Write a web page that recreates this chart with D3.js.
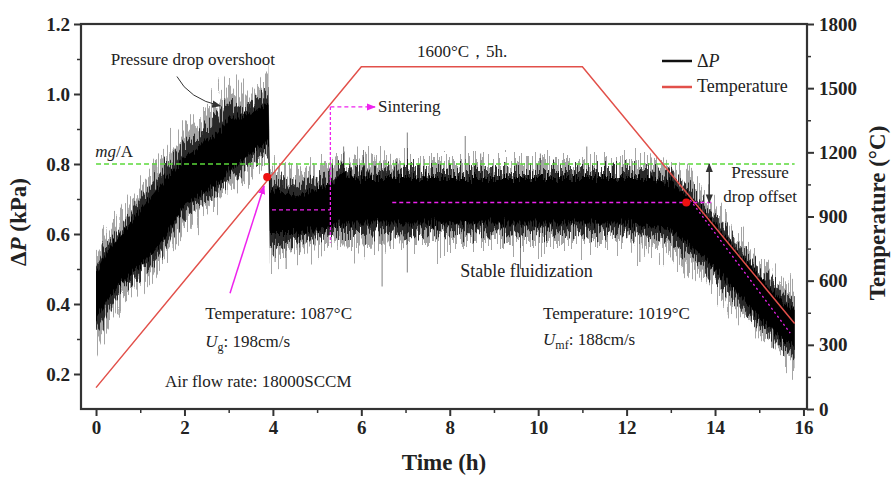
<!DOCTYPE html>
<html><head><meta charset="utf-8">
<script src="https://cdn.jsdelivr.net/npm/d3@7"></script>
<style>
body{margin:0;background:#fff}
svg{display:block}
text{font-family:"Liberation Serif","Times New Roman",serif;fill:#222}
</style>
</head><body>
<svg id="c" width="893" height="479"></svg>
<script>
// ---------- data ----------
const dpTime  = [0,0.25,0.5,0.75,1,1.25,1.5,1.75,2,2.25,2.5,2.75,3,3.25,3.5,3.75,3.9, 3.93,4.25,4.5,4.75,5,5.3, 5.5,6,7,8,9,10,11,12,12.5, 13,13.5,14,14.5,15,15.5,15.8];
const dpOuterUp = [0.54,0.59,0.63,0.68,0.73,0.77,0.81,0.85,0.90,0.92,0.95,0.97,1.03,0.99,0.99,1.03,1.03, 0.78,0.77,0.76,0.77,0.78,0.79, 0.81,0.81,0.80,0.80,0.80,0.80,0.80,0.80,0.80, 0.79,0.74,0.67,0.59,0.52,0.46,0.43];
const dpCoreUp  = [0.49,0.55,0.59,0.63,0.67,0.71,0.75,0.78,0.82,0.84,0.87,0.89,0.93,0.93,0.95,0.96,0.97, 0.73,0.72,0.71,0.72,0.73,0.74, 0.77,0.76,0.76,0.76,0.76,0.76,0.76,0.76,0.76, 0.75,0.70,0.63,0.55,0.48,0.41,0.38];
const dpCoreLo  = [0.36,0.41,0.45,0.48,0.51,0.54,0.58,0.63,0.68,0.70,0.72,0.74,0.78,0.80,0.83,0.85,0.86, 0.60,0.60,0.60,0.61,0.61,0.62, 0.63,0.63,0.63,0.63,0.63,0.63,0.63,0.63,0.62, 0.61,0.56,0.50,0.43,0.36,0.30,0.28];
const dpOuterLo = [0.28,0.35,0.40,0.43,0.46,0.49,0.53,0.58,0.63,0.66,0.68,0.70,0.74,0.76,0.79,0.81,0.82, 0.53,0.55,0.56,0.57,0.57,0.58, 0.57,0.57,0.58,0.58,0.58,0.58,0.58,0.58,0.57, 0.55,0.51,0.45,0.38,0.32,0.26,0.23];
const spikeT = [4.05,4.3,4.6,5.6,6.05,6.47,7.04,7.04,8.35,8.7,9.6,10.05,11.1,12.3];
const spikeV = [0.52,0.50,0.54,0.85,0.84,0.45,0.89,0.49,0.88,0.83,0.50,0.83,0.85,0.52];
const tempTime  = [0,6,11,15.8];
const tempValue = [100,1600,1600,400];
const xTicks = [0,2,4,6,8,10,12,14,16];
const xMinor = [1,3,5,7,9,11,13,15];
const yTicks = [0.2,0.4,0.6,0.8,1.0,1.2];
const yMinor = [0.3,0.5,0.7,0.9,1.1];
const tTicks = [0,300,600,900,1200,1500,1800];
const tMinor = [150,450,750,1050,1350,1650];
const mgA = 0.8;

// ---------- layout ----------
const L=81,R=807,T=24,B=409;
const svg=d3.select('#c');
const x=d3.scaleLinear().domain([-0.34,16.08]).range([L,R]);
const y=d3.scaleLinear().domain([0.1,1.2]).range([B,T]);
const yT=d3.scaleLinear().domain([0,1800]).range([B,T]);
const MAG='#ee22ee', RED='#e2504a', GRN='#5bd93a', AX='#333';

const defs=svg.append('defs');
defs.append('clipPath').attr('id','plot').append('rect').attr('x',L).attr('y',T).attr('width',R-L).attr('height',B-T);
function rough(id,scale,fx,seed){
  const f=defs.append('filter').attr('id',id).attr('x',-0.02).attr('y',-0.6).attr('width',1.04).attr('height',2.2)
    .attr('color-interpolation-filters','sRGB');
  f.append('feTurbulence').attr('type','fractalNoise').attr('baseFrequency',fx+' 0.02').attr('numOctaves',2).attr('seed',seed).attr('result','n');
  f.append('feColorMatrix').attr('in','n').attr('type','matrix')
    .attr('values','0 0 0 0 0.5  0 1 0 0 0  0 0 0 0 0  0 0 0 0 1').attr('result','m');
  f.append('feDisplacementMap').attr('in','SourceGraphic').attr('in2','m').attr('scale',scale)
    .attr('xChannelSelector','R').attr('yChannelSelector','G');
}
rough('r1',70,0.7,3); rough('r2',40,0.9,7); rough('r3',18,1.3,11);
function arrow(id,color,size){
  defs.append('marker').attr('id',id).attr('viewBox','0 0 10 10').attr('refX',9).attr('refY',5)
    .attr('markerWidth',size).attr('markerHeight',size).attr('orient','auto-start-reverse').attr('markerUnits','userSpaceOnUse')
    .append('path').attr('d','M0,1 L10,5 L0,9 Z').attr('fill',color);
}
arrow('am',MAG,9); arrow('ak',AX,9);

// ---------- pressure drop signal ----------
const dp=dpTime.map((t,i)=>({t,ou:dpOuterUp[i],cu:dpCoreUp[i],cl:dpCoreLo[i],ol:dpOuterLo[i]}));
const g=svg.append('g').attr('clip-path','url(#plot)');
const areaO=d3.area().x(d=>x(d.t)).y0(d=>y(d.ol)).y1(d=>y(d.ou));
const areaM=d3.area().x(d=>x(d.t)).y0(d=>y((d.ol+d.cl)/2)).y1(d=>y((d.ou+d.cu)/2));
const areaC=d3.area().x(d=>x(d.t)).y0(d=>y(d.cl)).y1(d=>y(d.cu));
g.append('path').datum(dp).attr('d',areaO).attr('fill','#000').attr('opacity',0.35).attr('filter','url(#r1)');
g.append('path').datum(dp).attr('d',areaM).attr('fill','#000').attr('opacity',0.75).attr('filter','url(#r2)');
g.selectAll('line.sp').data(spikeT.map((t,i)=>({t,v:spikeV[i]}))).join('line')
  .attr('x1',d=>x(d.t)).attr('x2',d=>x(d.t)).attr('y1',y(0.69)).attr('y2',d=>y(d.v))
  .attr('stroke','#000').attr('stroke-width',1).attr('opacity',0.5);
g.append('path').datum(dp).attr('d',areaC).attr('fill','#000').attr('filter','url(#r3)');

// ---------- reference lines & temperature ----------
g.append('line').attr('x1',x(0)).attr('x2',x(15.8)).attr('y1',y(mgA)).attr('y2',y(mgA))
  .attr('stroke',GRN).attr('stroke-width',1.3).attr('stroke-dasharray','5,3');
const temp=tempTime.map((t,i)=>({t,v:tempValue[i]}));
g.append('path').datum(temp).attr('d',d3.line().x(d=>x(d.t)).y(d=>yT(d.v)))
  .attr('fill','none').attr('stroke',RED).attr('stroke-width',1.5);

// magenta annotations
const dash='4,3';
g.append('line').attr('x1',x(5.3)).attr('x2',x(5.3)).attr('y1',y(0.963)).attr('y2',y(0.575)).attr('stroke',MAG).attr('stroke-width',1.3).attr('stroke-dasharray','3,2');
g.append('line').attr('x1',x(5.3)).attr('x2',x(6.31)).attr('y1',y(0.963)).attr('y2',y(0.963)).attr('stroke',MAG).attr('stroke-width',1.3).attr('stroke-dasharray',dash).attr('marker-end','url(#am)');
g.append('line').attr('x1',x(3.98)).attr('x2',x(5.3)).attr('y1',y(0.669)).attr('y2',y(0.669)).attr('stroke',MAG).attr('stroke-width',1.3).attr('stroke-dasharray',dash);
g.append('line').attr('x1',x(6.7)).attr('x2',x(13.95)).attr('y1',y(0.69)).attr('y2',y(0.69)).attr('stroke',MAG).attr('stroke-width',1.3).attr('stroke-dasharray',dash);
g.append('line').attr('x1',x(13.44)).attr('x2',x(15.7)).attr('y1',y(0.697)).attr('y2',y(0.317)).attr('stroke',MAG).attr('stroke-width',1.3).attr('stroke-dasharray','2,3');
g.append('line').attr('x1',x(3.03)).attr('x2',x(3.8)).attr('y1',y(0.431)).attr('y2',y(0.737)).attr('stroke',MAG).attr('stroke-width',1.5).attr('marker-end','url(#am)');
g.append('circle').attr('cx',x(3.87)).attr('cy',y(0.763)).attr('r',4).attr('fill','#ee1111');
g.append('circle').attr('cx',x(13.35)).attr('cy',y(0.69)).attr('r',4).attr('fill','#ee1111');
// black annotations
g.append('line').attr('x1',x(13.87)).attr('x2',x(13.87)).attr('y1',y(0.80)).attr('y2',y(0.69)).attr('stroke',AX).attr('stroke-width',1.3)
  .attr('marker-start','url(#ak)').attr('marker-end','url(#ak)');
g.append('path').attr('d',`M${x(1.83)},${y(1.05)} Q${x(2.1)},${y(0.986)} ${x(2.81)},${y(0.966)}`)
  .attr('fill','none').attr('stroke',AX).attr('stroke-width',1).attr('marker-end','url(#ak)');

// ---------- axes ----------
function styleAxis(sel,w){sel.select('.domain').remove();sel.selectAll('line').attr('stroke',AX).attr('stroke-width',w);
  sel.selectAll('text').attr('font-family','"Liberation Serif",serif').attr('font-weight','bold').attr('font-size',19).attr('fill','#222');}
svg.append('g').attr('transform',`translate(0,${B})`).call(d3.axisBottom(x).tickValues(xTicks).tickSize(7).tickPadding(5).tickFormat(d3.format('d'))).call(s=>styleAxis(s,2));
svg.append('g').attr('transform',`translate(0,${B})`).call(d3.axisBottom(x).tickValues(xMinor).tickSize(4).tickFormat('')).call(s=>styleAxis(s,1.5));
svg.append('g').attr('transform',`translate(${L},0)`).call(d3.axisLeft(y).tickValues(yTicks).tickSize(7).tickPadding(4).tickFormat(d3.format('.1f'))).call(s=>styleAxis(s,2));
svg.append('g').attr('transform',`translate(${L},0)`).call(d3.axisLeft(y).tickValues(yMinor).tickSize(4).tickFormat('')).call(s=>styleAxis(s,1.5));
svg.append('g').attr('transform',`translate(${R},0)`).call(d3.axisRight(yT).tickValues(tTicks).tickSize(7).tickPadding(5).tickFormat(d3.format('d'))).call(s=>styleAxis(s,2));
svg.append('g').attr('transform',`translate(${R},0)`).call(d3.axisRight(yT).tickValues(tMinor).tickSize(4).tickFormat('')).call(s=>styleAxis(s,1.5));
svg.append('rect').attr('x',L).attr('y',T).attr('width',R-L).attr('height',B-T).attr('fill','none').attr('stroke',AX).attr('stroke-width',2.2);

// axis titles
svg.append('text').attr('x',(L+R)/2).attr('y',470).attr('text-anchor','middle').attr('font-size',23).attr('font-weight','bold').text('Time (h)');
const yl=svg.append('text').attr('transform','translate(26,222) rotate(-90)').attr('text-anchor','middle').attr('font-size',23).attr('font-weight','bold');
yl.append('tspan').text('Δ');yl.append('tspan').attr('font-style','italic').text('P');yl.append('tspan').text(' (kPa)');
svg.append('text').attr('transform','translate(885,213) rotate(-90)').attr('text-anchor','middle').attr('font-size',23).attr('font-weight','bold').text('Temperature (°C)');

// ---------- legend ----------
svg.append('line').attr('x1',662).attr('x2',692).attr('y1',61).attr('y2',61).attr('stroke','#111').attr('stroke-width',2.5);
const lg1=svg.append('text').attr('x',697).attr('y',67).attr('font-size',18);
lg1.append('tspan').text('Δ');lg1.append('tspan').attr('font-style','italic').text('P');
svg.append('line').attr('x1',662).attr('x2',692).attr('y1',87).attr('y2',87).attr('stroke',RED).attr('stroke-width',2.5);
svg.append('text').attr('x',697).attr('y',92).attr('font-size',18).text('Temperature');

// ---------- text annotations ----------
function txt(t,v,s,anchor,size){return svg.append('text').attr('x',x(t)).attr('y',y(v)).attr('font-size',size||17).attr('text-anchor',anchor||'start').text(s);}
txt(2.19,1.083,'Pressure drop overshoot','middle');
txt(8.28,1.106,'1600°C，5h.','middle');
txt(6.38,0.949,'Sintering');
txt(8.24,0.477,'Stable fluidization','start',18);
txt(2.47,0.357,'Temperature: 1087°C');
txt(10.11,0.357,'Temperature: 1019°C');
txt(1.56,0.163,'Air flow rate: 18000SCCM');
txt(15.02,0.76,'Pressure','middle');
txt(15.02,0.691,'drop offset','middle');
const m=svg.append('text').attr('x',x(-0.02)).attr('y',y(0.82)).attr('font-size',17);
m.append('tspan').attr('font-style','italic').text('mg');m.append('tspan').text('/A');
function uText(t,v,sub,rest){const e=svg.append('text').attr('x',x(t)).attr('y',y(v)).attr('font-size',17);
  e.append('tspan').attr('font-style','italic').text('U');
  e.append('tspan').attr('font-size',12).attr('dy',4).text(sub);
  e.append('tspan').attr('dy',-4).text(rest);}
uText(2.47,0.277,'g',': 198cm/s');
uText(10.11,0.282,'mf',': 188cm/s');
</script>
</body></html>
